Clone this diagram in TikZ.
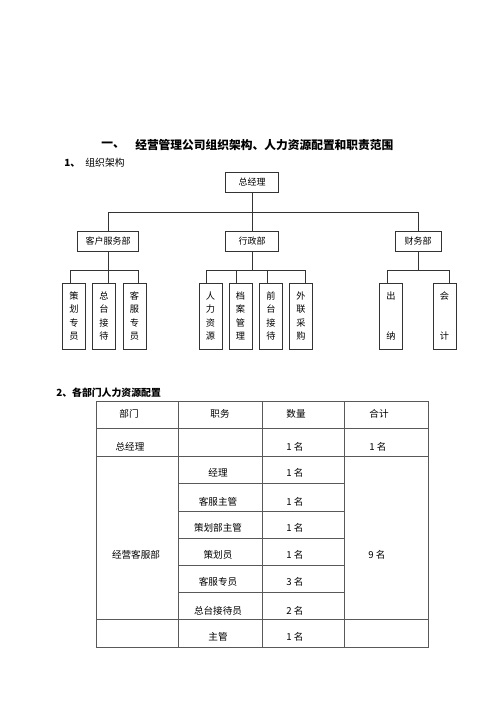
\documentclass[tikz,border=0pt]{standalone}
\usepackage{fontspec}
\setmainfont{Noto Sans CJK SC}
\usetikzlibrary{positioning}

\tikzset{
  headtxt/.style={inner sep=0pt, font=\fontsize{8.8}{10}\selectfont\bfseries},
  subtxt/.style={inner sep=0pt, font=\fontsize{7.4}{9}\selectfont\bfseries},
  orgbox/.style={draw=black!80, line width=0.6pt, inner sep=0pt, minimum height=15pt, font=\fontsize{6.75}{8}\selectfont},
  subbox/.style={draw=black!80, line width=0.6pt, inner sep=0pt, minimum width=17.25pt, minimum height=49.5pt, align=center, font=\fontsize{6.9}{10.1}\selectfont},
  conn/.style={draw=black!80, line width=0.6pt},
  tbl/.style={draw=black!65, line width=0.6pt},
  celltxt/.style={inner sep=0pt, font=\fontsize{7.2}{9}\selectfont}
}

\begin{document}
\begin{tikzpicture}[x=0.75pt,y=0.75pt,yscale=-1,xscale=1]
\useasboundingbox (0,0) rectangle (500,707);

%Text: headings
\node[headtxt] (t1) at (113,145) {一、};
\node[headtxt, anchor=west] (t2) at (135,145) {经营管理公司组织架构、人力资源配置和职责范围};
\node[subtxt, anchor=west] (s1) at (64,163) {1、};
\node[subtxt, anchor=west, font=\fontsize{7.4}{9}\selectfont] (s1b) at (85,163) {组织架构};

%Shape: Rectangle -- top level
\node[orgbox, minimum width=39.75pt] (gm) at (252,182) {总经理};
\node[orgbox, minimum width=45.75pt] (kf) at (108,241) {客户服务部};
\node[orgbox, minimum width=39.75pt] (xz) at (252,241) {行政部};
\node[orgbox, minimum width=34.5pt] (cw) at (418,241) {财务部};

%Straight Lines -- top bus
\coordinate (busL) at (108,212);
\coordinate (busR) at (418,212);
\draw[conn] (gm.south) -- (gm.south |- busL);
\draw[conn] (busL) -- (busR);
\draw[conn] (busL) -- (kf.north);
\draw[conn] (xz.north |- busL) -- (xz.north);
\draw[conn] (busR) -- (cw.north);

%Shape: Rectangle -- 客户服务部
\node[subbox] (k1) at (74,316) {策\\划\\专\\员};
\node[subbox] (k2) at (104,316) {总\\台\\接\\待};
\node[subbox] (k3) at (134.5,316) {客\\服\\专\\员};
\coordinate (kb1) at (70,270);
\coordinate (kb2) at (108,270);
\coordinate (kb3) at (138,270);
\draw[conn] (kf.south) -- (kb2);
\draw[conn] (kb1) -- (kb3);
\draw[conn] (kb1) -- (kb1 |- k1.north);
\draw[conn] (kb2) -- (kb2 |- k2.north);
\draw[conn] (kb3) -- (kb3 |- k3.north);

%Shape: Rectangle -- 行政部
\node[subbox] (x1) at (210.5,316) {人\\力\\资\\源};
\node[subbox] (x2) at (240.5,316) {档\\案\\管\\理};
\node[subbox] (x3) at (271,316) {前\\台\\接\\待};
\node[subbox] (x4) at (301,316) {外\\联\\采\\购};
\coordinate (xb1) at (206,270);
\coordinate (xb2) at (236,270);
\coordinate (xb3) at (267,270);
\coordinate (xb4) at (305,270);
\draw[conn] (xz.south) -- (xz.south |- xb1);
\draw[conn] (xb1) -- (xb4);
\draw[conn] (xb1) -- (xb1 |- x1.north);
\draw[conn] (xb2) -- (xb2 |- x2.north);
\draw[conn] (xb3) -- (xb3 |- x3.north);
\draw[conn] (xb4) -- (xb4 |- x4.north);

%Shape: Rectangle -- 财务部
\node[subbox] (c1) at (391,316) {出\\[20pt]纳};
\node[subbox] (c2) at (444.5,316) {会\\[20pt]计};
\coordinate (cb1) at (387,270);
\coordinate (cb2) at (449,270);
\draw[conn] (cw.south) -- (cw.south |- cb1);
\draw[conn] (cb1) -- (cb2);
\draw[conn] (cb1) -- (cb1 |- c1.north);
\draw[conn] (cb2) -- (cb2 |- c2.north);

%Text: section 2
\node[subtxt, anchor=west] (s2) at (56,393) {2、各部门人力资源配置};

%Shape: Table
\draw[tbl] (96,401) rectangle (428,647);
\draw[tbl] (178,401) -- (178,647);
\draw[tbl] (262,401) -- (262,647);
\draw[tbl] (344,401) -- (344,647);
\draw[tbl] (96,428) -- (428,428);
\draw[tbl] (96,456) -- (428,456);
\draw[tbl] (178,483) -- (344,483);
\draw[tbl] (178,511) -- (344,511);
\draw[tbl] (178,538) -- (344,538);
\draw[tbl] (178,565) -- (344,565);
\draw[tbl] (178,592) -- (344,592);
\draw[tbl] (96,619) -- (428,619);

%Text: table cells
\node[celltxt] (h1) at (129,414) {部门};
\node[celltxt] (h2) at (220,414) {职务};
\node[celltxt] (h3) at (296,414) {数量};
\node[celltxt] (h4) at (379,414) {合计};
\node[celltxt] (r1a) at (130,447) {总经理};
\node[celltxt] (r1c) at (295,447) {1 名};
\node[celltxt] (r1d) at (378,447) {1 名};
\node[celltxt] (dept) at (136,555) {经营客服部};
\node[celltxt] (sum) at (377,555) {9 名};
\node[celltxt] (j1) at (218,473) {经理};
\node[celltxt] (n1) at (295,473) {1 名};
\node[celltxt] (j2) at (218,502) {客服主管};
\node[celltxt] (n2) at (295,502) {1 名};
\node[celltxt] (j3) at (218,528) {策划部主管};
\node[celltxt] (n3) at (295,528) {1 名};
\node[celltxt] (j4) at (218,555) {策划员};
\node[celltxt] (n4) at (295,555) {1 名};
\node[celltxt] (j5) at (218,582) {客服专员};
\node[celltxt] (n5) at (295,582) {3 名};
\node[celltxt] (j6) at (218,611) {总台接待员};
\node[celltxt] (n6) at (295,611) {2 名};
\node[celltxt] (j7) at (218,637) {主管};
\node[celltxt] (n7) at (295,637) {1 名};

\end{tikzpicture}
\end{document}
